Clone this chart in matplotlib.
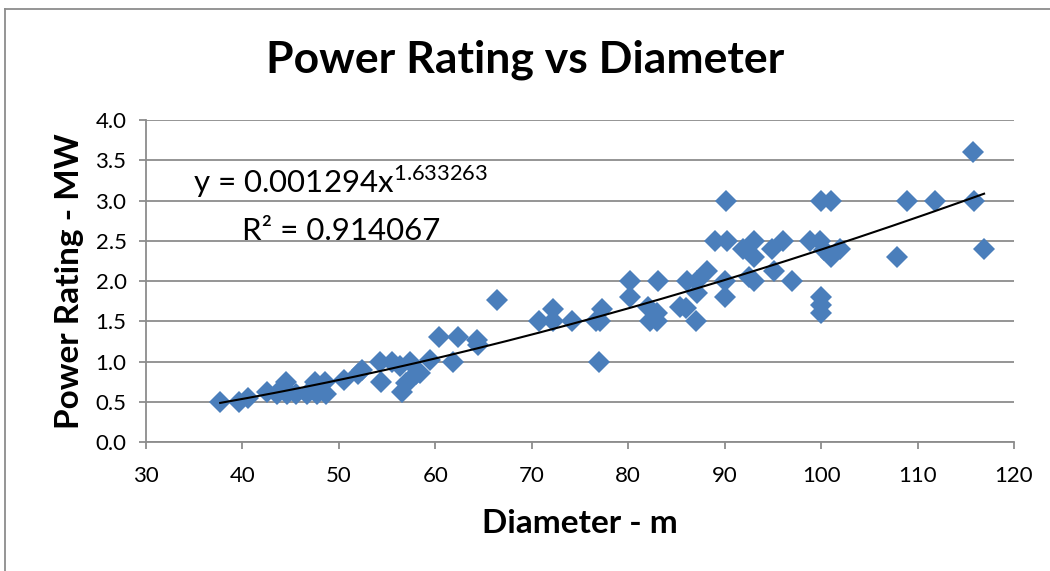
import matplotlib.pyplot as plt
import numpy as np
from matplotlib.lines import Line2D

# Diameter (m) and power rating (MW)
diameter = [37.7, 39.6, 40.6, 42.5, 43.6, 44.6, 44.5, 44.2, 45.6, 46.7, 47.7, 48.7,
            47.5, 48.6, 50.5, 52.4, 52.0, 54.3, 54.4, 55.5, 56.5, 56.3, 57.4, 57.4,
            57.0, 58.4, 58.0, 59.5, 60.4, 61.8, 62.4, 64.3, 64.4, 66.4,
            70.8, 72.2, 72.2, 74.2, 76.7, 77.3, 77.1, 77.0,
            80.2, 80.2, 82.1, 82.3, 83.0, 83.0, 83.1, 85.4, 86.0, 86.1, 87.1, 87.1,
            87.0, 88.2, 89.0, 90.2, 90.1, 90.0, 90.0, 91.9, 92.5, 93.0, 93.0, 93.0,
            94.9, 95.1, 96.1, 97.0, 98.9, 99.9, 100.0, 100.0, 100.0, 100.0, 100.3,
            101.0, 101.0, 102.0, 107.9, 108.9, 111.8, 115.8, 115.9, 116.9]
power = [0.50, 0.50, 0.55, 0.62, 0.60, 0.60, 0.75, 0.68, 0.60, 0.60, 0.60, 0.60,
         0.75, 0.75, 0.77, 0.90, 0.85, 1.00, 0.75, 1.00, 0.62, 0.94, 1.00, 0.77,
         0.73, 0.86, 0.85, 1.02, 1.30, 1.00, 1.30, 1.27, 1.20, 1.76,
         1.50, 1.65, 1.50, 1.50, 1.50, 1.65, 1.50, 1.00,
         2.00, 1.80, 1.68, 1.50, 1.60, 1.50, 2.00, 1.68, 1.66, 2.00, 2.00, 1.85,
         1.50, 2.12, 2.50, 2.50, 3.00, 2.00, 1.80, 2.40, 2.05, 2.50, 2.30, 2.00,
         2.40, 2.12, 2.50, 2.00, 2.50, 2.50, 3.00, 1.80, 1.70, 1.60, 2.38,
         3.00, 2.30, 2.40, 2.30, 3.00, 3.00, 3.60, 3.00, 2.40]

# power-law trendline shown on the chart
coef_a = 0.001294
coef_b = 1.633263
r_squared = 0.914067

font = 'Lato'
plt.rcParams['font.family'] = font
plt.rcParams['mathtext.fontset'] = 'custom'
plt.rcParams['mathtext.rm'] = font

fig = plt.figure(figsize=(10.5, 5.71), dpi=100)
ax = fig.add_axes([0.139, 0.2259, 0.8267, 0.5639])

ax.plot(diameter, power, linestyle='none', marker='D', markersize=11,
        color='#4a7ebb', markeredgewidth=0, zorder=3)

xs = np.linspace(min(diameter), max(diameter), 200)
ax.plot(xs, coef_a * xs ** coef_b, color='black', linewidth=1.5, zorder=4)

ax.set_xlim(30, 120)
ax.set_ylim(0, 4)
ax.set_xticks(range(30, 121, 10))
ax.set_yticks(np.arange(0, 4.01, 0.5))
ax.set_yticklabels([f'{v:.1f}' for v in np.arange(0, 4.01, 0.5)])
ax.yaxis.grid(True, color='#8c8c8c', linewidth=1.3)
ax.set_axisbelow(True)
for side in ['top', 'right']:
    ax.spines[side].set_visible(False)
for side in ['left', 'bottom']:
    ax.spines[side].set_color('#8c8c8c')
    ax.spines[side].set_linewidth(1.3)
ax.tick_params(axis='both', colors='#8c8c8c', length=5, width=1.3, labelsize=16,
               labelcolor='black')
ax.tick_params(axis='x', pad=12)
ax.tick_params(axis='y', pad=9)

ax.set_xlabel('Diameter - m', fontsize=24, fontweight='bold', labelpad=17)
ax.set_ylabel('Power Rating - MW', fontsize=24, fontweight='bold', labelpad=8)
fig.suptitle('Power Rating vs Diameter', fontsize=32, fontweight='bold', y=0.93)

ax.text(34.9, 3.09, r'y = 0.001294x$^{1.633263}$', fontsize=22.5)
ax.text(40.0, 2.51, 'R² = 0.914067', fontsize=22.5)

# outer chart border
fig.add_artist(Line2D([0.005, 0.005], [0, 0.985], color='#8c8c8c', linewidth=1.3))
fig.add_artist(Line2D([0.005, 1], [0.985, 0.985], color='#8c8c8c', linewidth=1.3))

fig.savefig('out.png', dpi=100)
